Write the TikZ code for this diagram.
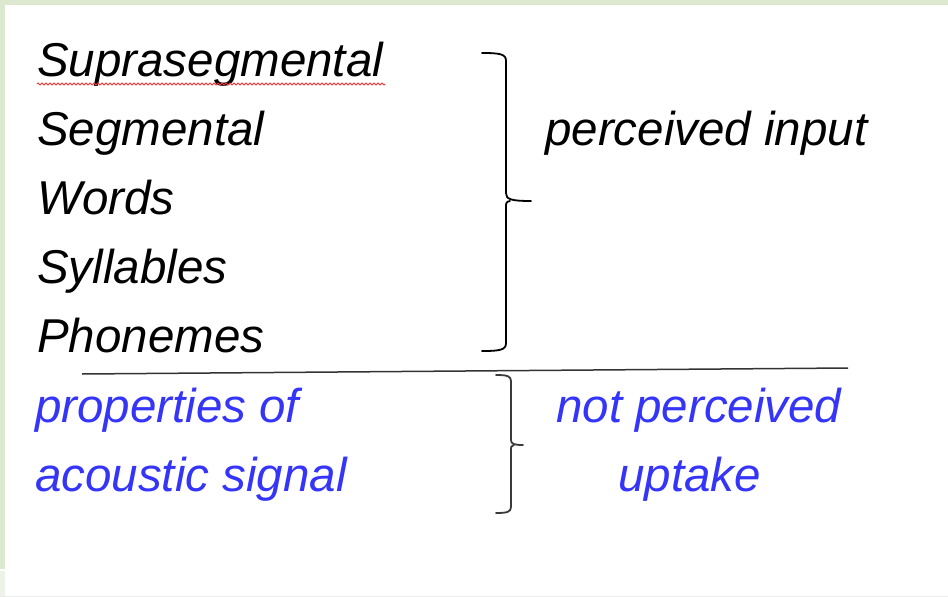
\documentclass[tikz,border=0pt]{standalone}
\usepackage{fontspec}
\setmainfont{Liberation Sans}
\usetikzlibrary{decorations.pathmorphing}
\definecolor{framegreen}{HTML}{DCE9CE}
\definecolor{framegreenlight}{HTML}{EDF3E6}
\definecolor{bluetext}{HTML}{3535FA}
\definecolor{bracegray}{HTML}{3A3A3A}
\tikzset{
  lbl/.style={anchor=base west, inner sep=0pt, font=\fontsize{47.5}{57}\selectfont\itshape},
  blk/.style={lbl, text=black},
  blu/.style={lbl, text=bluetext},
  bracestroke/.style={line width=1.8pt, line cap=round, line join=round},
}
\begin{document}
\begin{tikzpicture}[x=1pt,y=-1pt]
\useasboundingbox (0,0) rectangle (948,597);
% background
\fill[white] (0,0) rectangle (948,597);
\fill[framegreen] (0,0) rectangle (948,4.5);
\fill[framegreen] (0,0) rectangle (5,569);
\fill[framegreenlight] (0,571) rectangle (5,597);
\fill[black!8] (0,595.5) rectangle (948,597);
% left column texts
\node[blk] (supra) at (37,76) {Suprasegmental};
\node[blk] (seg) at (37,145) {Segmental};
\node[blk] (words) at (37,214) {Words};
\node[blk] (syll) at (37,283) {Syllables};
\node[blk] (phon) at (37,352) {Phonemes};
\node[blu] (prop) at (35,422) {properties of};
\node[blu] (acou) at (35,491) {acoustic signal};
% right texts
\node[blk] (perc) at (545,145) {perceived input};
\node[blu] (notp) at (556,422) {not perceived};
\node[blu] (upt) at (618,491) {uptake};
% spell-check squiggle
\draw[red!80, line width=0.8pt, decorate, decoration={zigzag, segment length=4pt, amplitude=1pt}]
  (37,84) -- (385,84);
% separator line
\coordinate (lineL) at (82,374);
\coordinate (lineR) at (848,368);
\draw[line width=1.5pt, black!80] (lineL) -- (lineR);
% upper brace
\draw[bracestroke, black] (482,53) .. controls (500,53) and (506,54) .. (506,61)
  -- (506,193) .. controls (506,199) and (510,201) .. (531,201);
\draw[bracestroke, black] (510,201) .. controls (506,202) .. (506,209)
  -- (506,343) .. controls (506,350) and (500,351) .. (482,351);
% lower brace
\draw[bracestroke, bracegray] (496,375) .. controls (507,375) and (511,376) .. (511,381)
  -- (511,440) .. controls (511,444) and (514,445) .. (523,445);
\draw[bracestroke, bracegray] (514,445) .. controls (511,446) .. (511,451)
  -- (511,507) .. controls (511,512) and (507,513) .. (496,513);
\end{tikzpicture}
\end{document}
